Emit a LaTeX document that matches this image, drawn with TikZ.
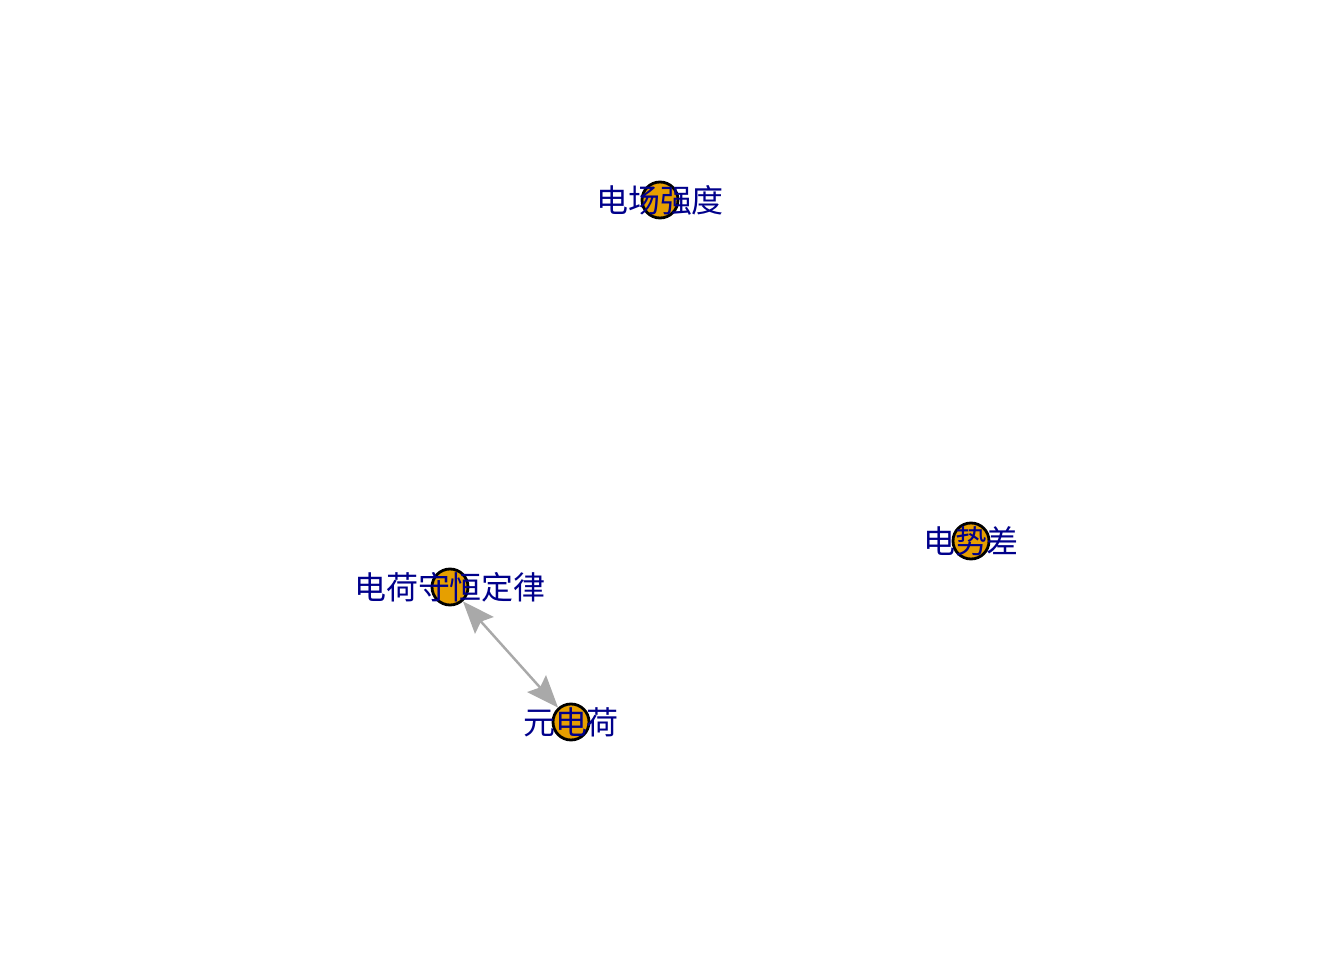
\documentclass[tikz,border=0pt]{standalone}
\usepackage{fontspec}
\newfontfamily\cjk{Noto Sans CJK SC}
\usetikzlibrary{arrows.meta}
\definecolor{vorange}{HTML}{E69F00}
\definecolor{vlabel}{HTML}{00008B}
\definecolor{egray}{HTML}{A9A9A9}
\tikzset{
  vtx/.style={circle,draw=black,line width=0.8pt,fill=vorange,minimum size=0.36cm,inner sep=0pt},
  vtxlabel/.style={font=\cjk\fontsize{9.1}{11}\selectfont,text=vlabel,inner sep=0pt},
  link/.style={egray,line width=0.7pt,{Stealth[length=0.32cm,width=0.25cm,inset=0.05cm]}-{Stealth[length=0.32cm,width=0.25cm,inset=0.05cm]}}
}

\begin{document}
\begin{tikzpicture}
\useasboundingbox (0,0) rectangle (13.44,9.6);
\node[vtx] (field) at (6.60,7.60) {};
\node[vtx] (potdiff) at (9.71,4.19) {};
\node[vtx] (conserv) at (4.50,3.73) {};
\node[vtx] (elem) at (5.71,2.38) {};

\draw[link] (conserv) -- (elem);

\node[vtxlabel] (field-t) at (field) {电场强度};
\node[vtxlabel] (potdiff-t) at (potdiff) {电势差};
\node[vtxlabel] (conserv-t) at (conserv) {电荷守恒定律};
\node[vtxlabel] (elem-t) at (elem) {元电荷};
\end{tikzpicture}
\end{document}
